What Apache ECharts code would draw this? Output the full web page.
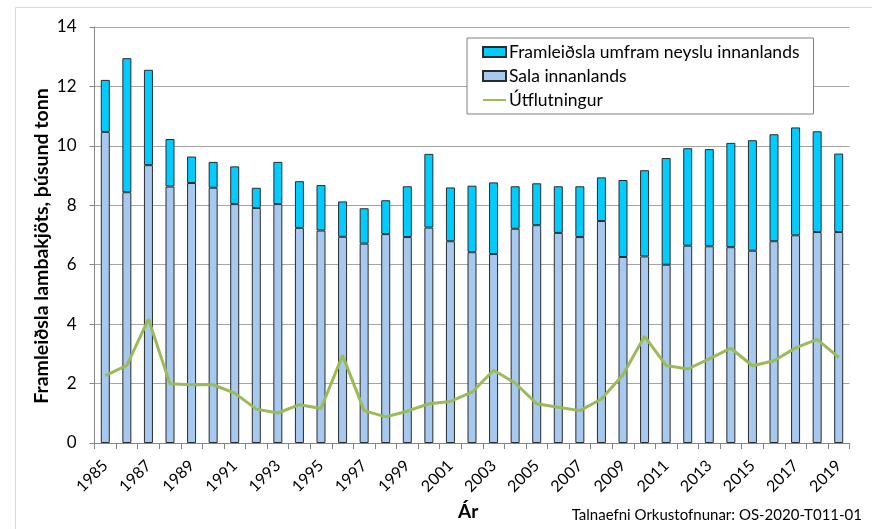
<!DOCTYPE html>
<html><head><meta charset="utf-8">
<script src="https://cdn.jsdelivr.net/npm/echarts@6/dist/echarts.min.js"></script>
<style>html,body{margin:0;padding:0;background:#fff}#c{width:872px;height:529px}</style>
</head><body><div id="c"></div>
<script>
const years = ['1985','1986','1987','1988','1989','1990','1991','1992','1993','1994','1995','1996','1997','1998','1999','2000','2001','2002','2003','2004','2005','2006','2007','2008','2009','2010','2011','2012','2013','2014','2015','2016','2017','2018','2019'];
const salaInnanlands = [10.47,8.44,9.35,8.63,8.75,8.59,8.04,7.91,8.04,7.24,7.15,6.94,6.71,7.03,6.93,7.25,6.79,6.42,6.36,7.21,7.33,7.07,6.93,7.47,6.26,6.28,6.00,6.64,6.62,6.59,6.47,6.79,6.99,7.10,7.10];
const umframNeyslu = [1.75,4.51,3.21,1.60,0.89,0.87,1.27,0.68,1.42,1.57,1.53,1.19,1.19,1.14,1.71,2.48,1.81,2.24,2.41,1.43,1.41,1.57,1.71,1.47,2.59,2.90,3.59,3.28,3.27,3.51,3.72,3.60,3.63,3.39,2.64];
const utflutningur = [2.27,2.61,4.17,1.99,1.96,1.96,1.68,1.14,1.01,1.29,1.16,2.95,1.09,0.88,1.07,1.32,1.40,1.71,2.45,2.02,1.32,1.20,1.09,1.48,2.30,3.59,2.61,2.49,2.83,3.19,2.60,2.77,3.20,3.49,2.88];
const yTicks = [0,2,4,6,8,10,12,14];

const FONT = 'Lato';
const chart = echarts.init(document.getElementById('c'));
chart.setOption({
  animation: false,
  textStyle: {fontFamily: FONT},
  graphic: [
    {type:'rect', shape:{x:15.5,y:7.5,width:900,height:600}, style:{fill:'none', stroke:'#d9d9d9', lineWidth:1}, z:-10},
    {type:'text', right:10, top:508, style:{text:'Talnaefni Orkustofnunar: OS-2020-T011-01', font:'15px Lato', fill:'#000'}},
    {type:'text', left:458, top:502, style:{text:'Ár', font:'bold 19px Lato', fill:'#000'}},
    {type:'text', x:42, y:246, rotation:Math.PI/2, style:{text:'Framleiðsla lambakjöts, þúsund tonn', font:'bold 19.5px Lato', fill:'#000', align:'center', verticalAlign:'middle'}}
  ],
  grid: {left:94.5, right:22.5, top:27, bottom:86, containLabel:false},
  legend: {
    orient:'vertical', left:467, top:38,
    padding:[5,14,5,15], itemGap:6, itemWidth:23, itemHeight:10,
    borderColor:'#808080', borderWidth:1, backgroundColor:'#fff',
    textStyle:{fontFamily:FONT, fontSize:17.5, color:'#000', lineHeight:18, padding:[0,0,0,-2]},
    data:[
      {name:'Framleiðsla umfram neyslu innanlands', icon:'rect'},
      {name:'Sala innanlands', icon:'rect'},
      {name:'Útflutningur', itemStyle:{opacity:0}}
    ]
  },
  xAxis: {
    type:'category', data: years, boundaryGap:true,
    axisLine:{lineStyle:{color:'#868686', width:1}},
    axisTick:{show:true, interval:0, length:6, lineStyle:{color:'#868686'}},
    axisLabel:{interval:1, rotate:45, fontSize:16, color:'#000', margin:20, fontFamily:FONT}
  },
  yAxis: {
    type:'value', min:0, max:14, interval:2,
    axisLine:{show:true, lineStyle:{color:'#868686'}},
    axisTick:{show:true, length:5, lineStyle:{color:'#868686'}},
    axisLabel:{fontSize:17, color:'#000', margin:18, fontFamily:FONT},
    splitLine:{lineStyle:{color:'#a6a6a6', width:1}}
  },
  series: [
    {name:'Sala innanlands', type:'bar', stack:'t', data: salaInnanlands, barWidth:9,
      itemStyle:{color:'#a7c8ef', borderColor:'#2b2b2b', borderWidth:1}},
    {name:'Framleiðsla umfram neyslu innanlands', type:'bar', stack:'t', data: umframNeyslu, barWidth:9,
      itemStyle:{color:'#00ccff', borderColor:'#2b2b2b', borderWidth:1}},
    {name:'Útflutningur', type:'line', data: utflutningur, symbol:'none', z:5,
      lineStyle:{color:'#9bbb59', width:3}, itemStyle:{color:'#9bbb59'}}
  ]
});
</script></body></html>
